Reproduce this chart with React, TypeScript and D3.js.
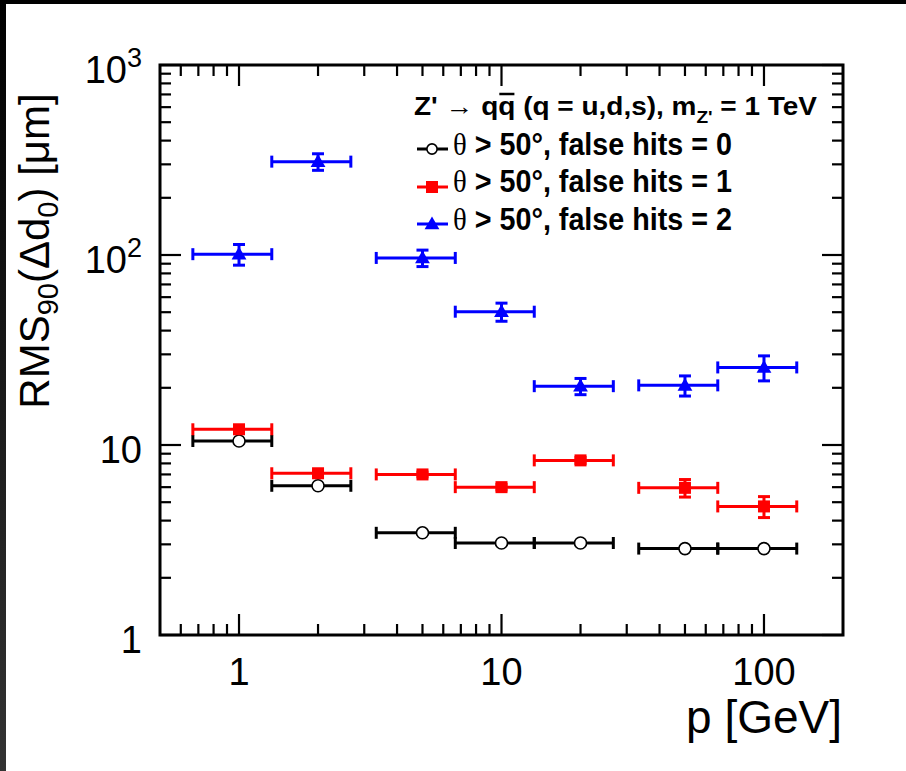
import React, { useLayoutEffect, useRef, useState } from 'react';
import * as d3 from 'd3';

// momentum points [GeV] and their bins
const momenta = [1, 2, 5, 10, 20, 50, 100];
const binLow = [0.667, 1.333, 3.333, 6.667, 13.33, 33.33, 66.67];
const binHigh = [1.333, 2.667, 6.667, 13.33, 26.67, 66.67, 133.3];

// RMS90(dd0) in um
const hits0 = [10.5, 6.1, 3.45, 3.05, 3.05, 2.85, 2.85];
const hits0Err = [0.1, 0.08, 0.05, 0.05, 0.05, 0.05, 0.05];
const hits1 = [12.1, 7.1, 7.0, 6.0, 8.3, 5.95, 4.75];
const hits1Err = [0.3, 0.2, 0.2, 0.2, 0.3, 0.63, 0.6];
const hits2 = [101, 310, 96.5, 50.3, 20.4, 20.6, 25.6];
const hits2Err = [12.6, 31, 9.6, 5.5, 2.0, 2.5, 3.85];

const seriesNames = ['false hits = 0', 'false hits = 1', 'false hits = 2'];
const seriesColors = ['#000000', '#ff0000', '#0000ff'];

const xMajor = [1, 10, 100];
const xTickLabels = ['1', '10', '100'];
const yMajor = [1, 10, 100, 1000];
const yTickBase = ['1', '10', '10', '10'];
const yTickExp = ['', '', '2', '3'];

const W = 906;
const H = 771;
const left = 160, right = 843, top = 65, bottom = 635;
const font = '"Liberation Sans", Arial, Helvetica, sans-serif';

function minorTicks(lo: number, hi: number) {
  const out: number[] = [];
  for (let d = Math.floor(Math.log10(lo)); d <= Math.ceil(Math.log10(hi)); d++) {
    for (let k = 2; k <= 9; k++) {
      const v = k * Math.pow(10, d);
      if (v > lo * 1.001 && v < hi * 0.999) out.push(v);
    }
  }
  return out;
}

function Marker({ kind, x, y, scale = 1 }: { kind: number; x: number; y: number; scale?: number }) {
  if (kind === 0) {
    return <circle cx={x} cy={y} r={6 * scale} fill="#fff" stroke="#000" strokeWidth={1.6} />;
  }
  if (kind === 1) {
    const s = 12 * scale;
    return <rect x={x - s / 2} y={y - s / 2} width={s} height={s} fill="#ff0000" />;
  }
  const path = d3.symbol(d3.symbolTriangle, 95 * scale * scale)();
  return <path d={path || ''} transform={`translate(${x},${y + 1})`} fill="#0000ff" />;
}

export default function App() {
  const x = d3.scaleLog().domain([0.5, 200]).range([left, right]);
  const y = d3.scaleLog().domain([1, 1000]).range([bottom, top]);
  const headRef = useRef<SVGTextElement>(null);
  const [bar, setBar] = useState<{ x: number; w: number } | null>(null);

  useLayoutEffect(() => {
    const t = headRef.current;
    if (t && t.getNumberOfChars() > 6) {
      const r = t.getExtentOfChar(6);
      setBar({ x: r.x, w: r.width });
    }
  }, []);

  const series = [
    { vals: hits0, errs: hits0Err },
    { vals: hits1, errs: hits1Err },
    { vals: hits2, errs: hits2Err },
  ];

  const xMinor = minorTicks(0.5, 200);
  const yMinor = minorTicks(1, 1000);
  const majLen = 21, minLen = 11;
  const headBase = 115;

  return (
    <svg width={W} height={H} style={{ position: 'absolute', left: 0, top: 0, background: '#fff' }}>
      <defs>
        <linearGradient id="edge" x1="0" y1="0" x2="0" y2="1">
          <stop offset="0" stopColor="#000" />
          <stop offset="1" stopColor="#333" />
        </linearGradient>
      </defs>
      <rect x={0} y={0} width={W} height={H} fill="#fff" />
      <rect x={0} y={0} width={W} height={4} fill="#000" />
      <rect x={0} y={0} width={6} height={H} fill="url(#edge)" />

      {/* ticks */}
      <g stroke="#000" strokeWidth={2.2}>
        {xMajor.map(v => (
          <g key={'xm' + v}>
            <line x1={x(v)} x2={x(v)} y1={bottom} y2={bottom - majLen} />
            <line x1={x(v)} x2={x(v)} y1={top} y2={top + majLen} />
          </g>
        ))}
        {xMinor.map(v => (
          <g key={'xn' + v}>
            <line x1={x(v)} x2={x(v)} y1={bottom} y2={bottom - minLen} />
            <line x1={x(v)} x2={x(v)} y1={top} y2={top + minLen} />
          </g>
        ))}
        {yMajor.map(v => (
          <g key={'ym' + v}>
            <line y1={y(v)} y2={y(v)} x1={left} x2={left + majLen} />
            <line y1={y(v)} y2={y(v)} x1={right} x2={right - majLen} />
          </g>
        ))}
        {yMinor.map(v => (
          <g key={'yn' + v}>
            <line y1={y(v)} y2={y(v)} x1={left} x2={left + minLen} />
            <line y1={y(v)} y2={y(v)} x1={right} x2={right - minLen} />
          </g>
        ))}
      </g>
      <rect x={left} y={top} width={right - left} height={bottom - top} fill="none" stroke="#000" strokeWidth={3} />

      {/* tick labels */}
      <g fontFamily={font} fontSize={38} fill="#000">
        {xMajor.map((v, i) => (
          <text key={'xl' + v} x={x(v)} y={685} textAnchor="middle">{xTickLabels[i]}</text>
        ))}
        {yMajor.map((v, i) => (
          <text key={'yl' + v} x={142} y={y(v) + 18} textAnchor="end">
            {yTickBase[i]}
            {yTickExp[i] && <tspan dy={-16} fontSize={27}>{yTickExp[i]}</tspan>}
          </text>
        ))}
      </g>

      {/* axis titles */}
      <text x={842} y={733} textAnchor="end" fontFamily={font} fontSize={46}>p [GeV]</text>
      <text transform="translate(49,251) rotate(-90)" textAnchor="middle" fontFamily={font} fontSize={42}>
        RMS<tspan dy={9} fontSize={29}>90</tspan><tspan dy={-9}>(Δd</tspan><tspan dy={9} fontSize={29}>0</tspan><tspan dy={-9}>) [μm]</tspan>
      </text>

      {/* data */}
      {series.map((s, si) => (
        <g key={'s' + si} stroke={seriesColors[si]} strokeWidth={3}>
          {momenta.map((m, i) => {
            const cx = x(m), cy = y(s.vals[i]);
            const yHi = y(s.vals[i] + s.errs[i]), yLo = y(s.vals[i] - s.errs[i]);
            const x0 = x(binLow[i]), x1 = x(binHigh[i]);
            return (
              <g key={i}>
                <line x1={x0} x2={x1} y1={cy} y2={cy} />
                <line x1={x0} x2={x0} y1={cy - 6} y2={cy + 6} />
                <line x1={x1} x2={x1} y1={cy - 6} y2={cy + 6} />
                <line x1={cx} x2={cx} y1={yHi} y2={yLo} />
                <line x1={cx - 6} x2={cx + 6} y1={yHi} y2={yHi} />
                <line x1={cx - 6} x2={cx + 6} y1={yLo} y2={yLo} />
                <g stroke="none"><Marker kind={si} x={cx} y={cy} /></g>
              </g>
            );
          })}
        </g>
      ))}

      {/* legend */}
      <text ref={headRef} x={414} y={headBase} fontFamily={font} fontWeight="bold" fontSize={25} textLength={403} lengthAdjust="spacingAndGlyphs">
        Z' → qq (q = u,d,s), m<tspan dy={8} fontSize={17}>Z'</tspan><tspan dy={-8}> = 1 TeV</tspan>
      </text>
      {bar && (
        <line x1={bar.x + 1} x2={bar.x + bar.w - 1} y1={headBase - 21} y2={headBase - 21} stroke="#000" strokeWidth={2.5} />
      )}
      {seriesNames.map((name, i) => {
        const ly = [149, 187, 224][i];
        return (
          <g key={'lg' + i}>
            <line x1={417} x2={448} y1={ly} y2={ly} stroke={seriesColors[i]} strokeWidth={3} />
            <Marker kind={i} x={432} y={ly} scale={i === 0 ? 0.85 : 1} />
            <text x={453} y={[155, 192, 230][i]} fontFamily={font} fontWeight="bold" fontSize={31} textLength={279} lengthAdjust="spacingAndGlyphs">
              <tspan fontFamily='"Liberation Serif", "Times New Roman", serif' fontWeight="normal">θ</tspan> &gt; 50°, {name}
            </text>
          </g>
        );
      })}
    </svg>
  );
}
